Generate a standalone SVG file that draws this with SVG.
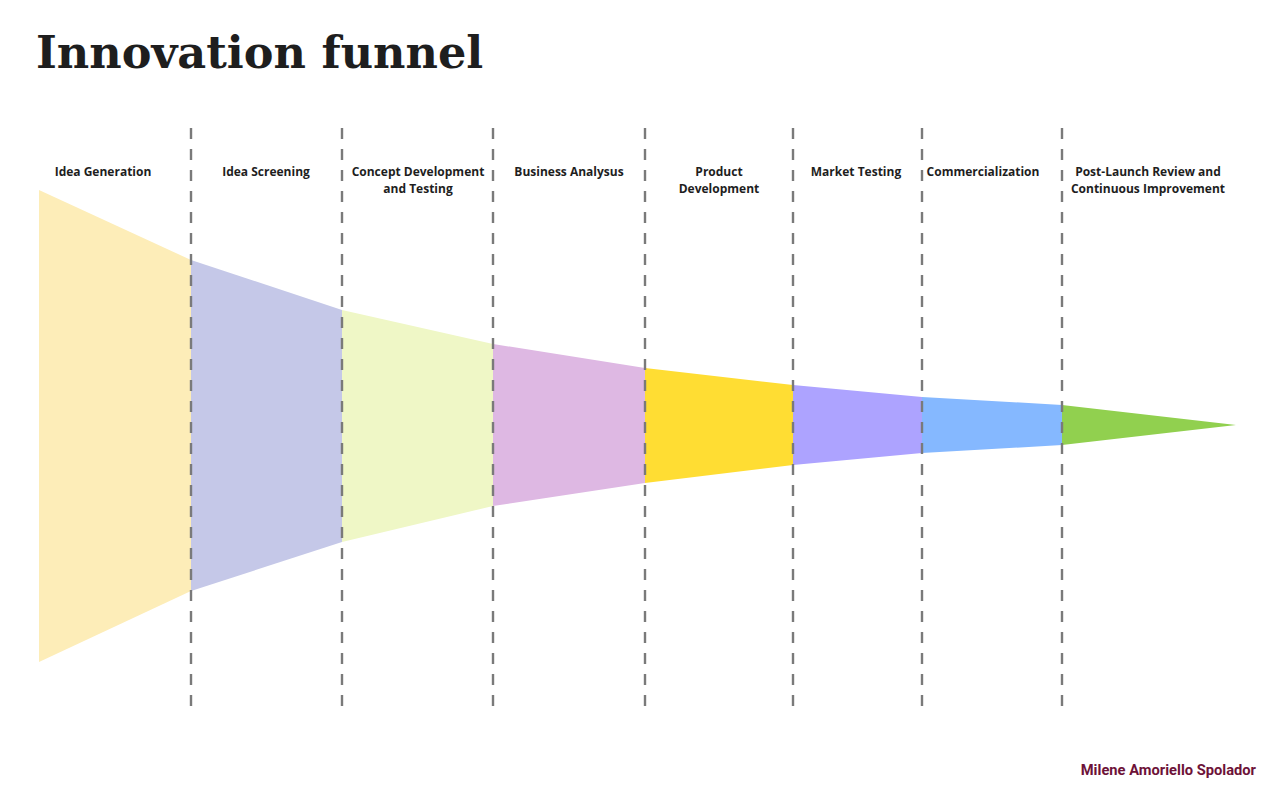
<svg xmlns="http://www.w3.org/2000/svg" width="1278" height="796" viewBox="0 0 1278 796">
<style>
.title{font-family:"DejaVu Serif","Liberation Serif",serif;font-weight:bold;font-size:44.6px;fill:#1e1e1e}
.lbl{font-family:"Open Sans","Noto Sans",sans-serif;font-weight:bold;font-size:12px;fill:#1e1e1e;text-anchor:middle}
.sig{font-family:Roboto,"Liberation Sans",sans-serif;font-weight:bold;font-size:14.7px;fill:#6d1238;text-anchor:end}
.dash{stroke:#7a7a7a;stroke-width:2.4;stroke-dasharray:11 10;fill:none}
</style>
<rect width="1278" height="796" fill="#ffffff"/>
<text class="title" x="36" y="68">Innovation funnel</text>
<g id="funnel">
<g id="stage1"><polygon points="39,190 191,260 191,591 39,662" fill="#fdedb8"/></g>
<g id="stage2"><polygon points="191,260 342,310 342,542 191,591" fill="#c5c8e8"/></g>
<g id="stage3"><polygon points="342,310 493,344 493,506 342,542" fill="#eff7c6"/></g>
<g id="stage4"><polygon points="493,344 645,368 645,483 493,506" fill="#deb8e3"/></g>
<g id="stage5"><polygon points="645,368 793,385 793,465 645,483" fill="#ffdd33"/></g>
<g id="stage6"><polygon points="793,385 922,397 922,453 793,465" fill="#ada3ff"/></g>
<g id="stage7"><polygon points="922,397 1062,405 1062,445 922,453" fill="#85b8ff"/></g>
<g id="stage8"><polygon points="1062,405 1236,425 1062,445" fill="#91d04f"/></g>
</g>
<g id="connectors">
<line class="dash" x1="191" y1="128" x2="191" y2="708"/>
<line class="dash" x1="342" y1="128" x2="342" y2="708"/>
<line class="dash" x1="493" y1="128" x2="493" y2="708"/>
<line class="dash" x1="645" y1="128" x2="645" y2="708"/>
<line class="dash" x1="793" y1="128" x2="793" y2="708"/>
<line class="dash" x1="922" y1="128" x2="922" y2="708"/>
<line class="dash" x1="1062" y1="128" x2="1062" y2="708"/>
</g>
<g id="labels">
<text class="lbl" x="103" y="176">Idea Generation</text>
<text class="lbl" x="266" y="176">Idea Screening</text>
<text class="lbl" x="418" y="176">Concept Development<tspan x="418" dy="17">and Testing</tspan></text>
<text class="lbl" x="569" y="176">Business Analysus</text>
<text class="lbl" x="719" y="176">Product<tspan x="719" dy="17">Development</tspan></text>
<text class="lbl" x="856" y="176">Market Testing</text>
<text class="lbl" x="983" y="176">Commercialization</text>
<text class="lbl" x="1148" y="176">Post-Launch Review and<tspan x="1148" dy="17">Continuous Improvement</tspan></text>
</g>
<text class="sig" x="1256" y="775">Milene Amoriello Spolador</text>
</svg>
